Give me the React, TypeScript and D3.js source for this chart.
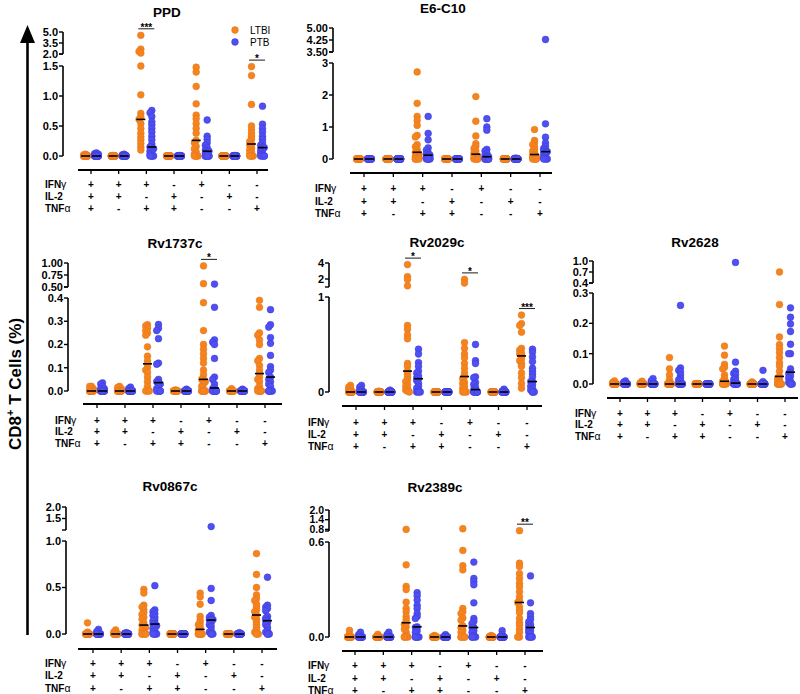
import * as d3 from 'd3';

// cytokine combination rows under each panel
const ifng = ['+', '+', '+', '-', '+', '-', '-'];
const il2 = ['+', '+', '-', '+', '-', '+', '-'];
const tnfa = ['+', '-', '+', '+', '-', '-', '+'];

const Z = (n: number) => Array(n).fill(0);

// PPD
const ppdLTBI = [
  [0.03, 0.02, 0.01, ...Z(13)],
  [0.01, ...Z(14)],
  [4.55, 2.66, 2.35, 2.13, 1.5, 1.02, 0.71, 0.65, 0.61, 0.54, 0.46, 0.38, 0.32, 0.27, 0.21, 0.15, 0.1],
  Z(15),
  [1.48, 1.4, 1.16, 0.87, 0.68, 0.62, 0.54, 0.46, 0.38, 0.26, 0.22, 0.16, 0.12, 0.07, 0.03, 0, 0, 0, 0],
  Z(15),
  [1.49, 1.34, 0.86, 0.5, 0.44, 0.38, 0.33, 0.28, 0.24, 0.2, 0.18, 0.13, 0.1, 0.07, 0.04, 0, 0, 0, 0],
];
const ppdPTB = [
  [0.05, 0.04, 0.03, 0.02, 0.01, ...Z(12)],
  [0.03, 0.02, 0.01, ...Z(13)],
  [0.76, 0.72, 0.66, 0.57, 0.52, 0.46, 0.4, 0.33, 0.27, 0.2, 0.15, 0.15, 0.12, 0.1, 0.08, 0.05, 0.03, 0, 0, 0, 0],
  [0.01, ...Z(15)],
  [0.6, 0.33, 0.28, 0.22, 0.18, 0.14, 0.1, 0.08, 0.08, 0.05, 0.03, 0, 0, 0, 0, 0, 0],
  [0.01, ...Z(15)],
  [0.83, 0.53, 0.46, 0.4, 0.33, 0.28, 0.22, 0.18, 0.15, 0.14, 0.12, 0.1, 0.07, 0.04, 0.02, 0, 0, 0, 0],
];
const ppdSig = [{ cat: 2, label: '***' }, { cat: 6, label: '*' }];

// E6-C10
const e6LTBI = [
  Z(15),
  Z(15),
  [2.72, 1.74, 1.33, 1.2, 1.05, 0.74, 0.69, 0.45, 0.38, 0.3, 0.21, 0.2, 0.15, 0.12, 0.08, 0.05, 0.02, 0, 0, 0, 0],
  Z(15),
  [1.95, 1.18, 0.72, 0.48, 0.4, 0.33, 0.25, 0.2, 0.15, 0.12, 0.08, 0.05, 0.03, 0, 0, 0, 0],
  Z(15),
  [0.92, 0.58, 0.5, 0.45, 0.38, 0.3, 0.25, 0.2, 0.14, 0.12, 0.08, 0.05, 0.02, 0, 0, 0, 0],
];
const e6PTB = [
  Z(15),
  Z(15),
  [1.33, 0.8, 0.6, 0.35, 0.28, 0.2, 0.15, 0.12, 0.12, 0.08, 0.05, 0.02, 0, 0, 0, 0, 0],
  Z(15),
  [1.26, 1.0, 0.9, 0.3, 0.25, 0.18, 0.12, 0.08, 0.07, 0.05, 0.03, 0, 0, 0, 0, 0, 0],
  [0.03, 0.02, ...Z(13)],
  [4.28, 1.1, 0.68, 0.5, 0.4, 0.33, 0.28, 0.25, 0.23, 0.2, 0.15, 0.1, 0.05, 0.02, 0, 0, 0],
];

// Rv1737c
const rv1737LTBI = [
  [0.02, 0.02, 0.01, 0.01, ...Z(12)],
  [0.02, 0.015, 0.01, ...Z(13)],
  [0.285, 0.28, 0.27, 0.26, 0.25, 0.24, 0.19, 0.15, 0.13, 0.117, 0.1, 0.09, 0.08, 0.06, 0.04, 0.02, 0, 0, 0],
  [0.005, ...Z(14)],
  [0.94, 0.57, 0.38, 0.26, 0.2, 0.18, 0.16, 0.14, 0.12, 0.09, 0.07, 0.05, 0.05, 0.04, 0.03, 0.02, 0, 0, 0, 0, 0, 0, 0],
  [0.01, ...Z(14)],
  [0.39, 0.36, 0.25, 0.24, 0.22, 0.2, 0.14, 0.13, 0.11, 0.09, 0.075, 0.06, 0.05, 0.04, 0.02, 0.01, 0, 0, 0, 0, 0],
];
const rv1737PTB = [
  [0.035, 0.03, 0.02, 0.01, 0.01, ...Z(11)],
  [0.017, 0.01, ...Z(14)],
  [0.286, 0.27, 0.26, 0.225, 0.12, 0.115, 0.05, 0.04, 0.036, 0.03, 0.02, 0.01, 0, 0, 0, 0, 0],
  [0.008, ...Z(14)],
  [0.56, 0.36, 0.22, 0.21, 0.2, 0.14, 0.06, 0.05, 0.03, 0.013, 0.01, 0, 0, 0, 0, 0, 0, 0, 0],
  [0.008, ...Z(14)],
  [0.35, 0.285, 0.275, 0.23, 0.205, 0.153, 0.105, 0.09, 0.08, 0.06, 0.05, 0.04, 0.03, 0.02, 0, 0, 0, 0, 0],
];
const rv1737Sig = [{ cat: 4, label: '*' }];

// Rv2029c
const rv2029LTBI = [
  [0.07, 0.05, 0.04, 0.02, ...Z(12)],
  [0.01, ...Z(14)],
  [3.8, 2.3, 1.95, 1.15, 0.7, 0.66, 0.6, 0.56, 0.3, 0.27, 0.22, 0.19, 0.16, 0.13, 0.11, 0.08, 0.06, 0.04, 0.02, 0.01, 0],
  Z(15),
  [1.95, 1.5, 0.52, 0.46, 0.4, 0.36, 0.3, 0.25, 0.2, 0.163, 0.14, 0.1, 0.09, 0.06, 0.04, 0.02, 0, 0, 0],
  Z(15),
  [0.81, 0.72, 0.7, 0.63, 0.46, 0.44, 0.41, 0.4, 0.38, 0.35, 0.33, 0.3, 0.27, 0.2, 0.15, 0.09, 0.04],
];
const rv2029PTB = [
  [0.07, 0.05, 0.025, 0.01, ...Z(12)],
  [0.02, ...Z(14)],
  [0.45, 0.4, 0.31, 0.27, 0.22, 0.2, 0.17, 0.15, 0.14, 0.12, 0.09, 0.06, 0.04, 0.02, 0, 0, 0],
  Z(15),
  [0.5, 0.33, 0.3, 0.16, 0.15, 0.1, 0.08, 0.05, 0.025, 0.02, 0, 0, 0, 0, 0, 0, 0],
  [0.03, 0.01, ...Z(13)],
  [0.45, 0.42, 0.37, 0.32, 0.25, 0.22, 0.19, 0.16, 0.11, 0.11, 0.08, 0.06, 0.04, 0.02, 0, 0, 0],
];
const rv2029Sig = [{ cat: 2, label: '*' }, { cat: 4, label: '*' }, { cat: 6, label: '***' }];

// Rv2628
const rv2628LTBI = [
  [0.01, 0.005, ...Z(13)],
  [0.009, 0.004, ...Z(13)],
  [0.087, 0.05, 0.03, 0.014, 0.005, ...Z(10)],
  [0.002, ...Z(14)],
  [0.125, 0.095, 0.065, 0.055, 0.05, 0.03, 0.02, 0.009, 0.009, 0.005, 0, 0, 0, 0, 0, 0, 0],
  [0.007, ...Z(14)],
  [0.7, 0.262, 0.155, 0.13, 0.117, 0.103, 0.087, 0.07, 0.059, 0.042, 0.025, 0.02, 0.015, 0.009, 0.005, 0, 0, 0, 0, 0, 0],
];
const rv2628PTB = [
  [0.01, 0.006, ...Z(13)],
  [0.018, 0.01, ...Z(13)],
  [0.259, 0.053, 0.045, 0.04, 0.03, 0.02, 0.014, 0.01, 0, 0, 0, 0, 0, 0, 0, 0, 0],
  Z(15),
  [0.96, 0.072, 0.042, 0.035, 0.031, 0.02, 0.015, 0.01, 0.003, 0, 0, 0, 0, 0, 0, 0, 0],
  [0.045, 0.008, ...Z(13)],
  [0.251, 0.22, 0.198, 0.173, 0.131, 0.1, 0.1, 0.05, 0.039, 0.035, 0.026, 0.02, 0.009, 0.005, 0, 0, 0],
];

// Rv0867c
const rv0867LTBI = [
  [0.12, 0.02, ...Z(13)],
  [0.043, 0.02, ...Z(13)],
  [0.48, 0.44, 0.31, 0.29, 0.26, 0.23, 0.21, 0.18, 0.16, 0.12, 0.096, 0.09, 0.07, 0.05, 0.04, 0.02, 0, 0, 0, 0, 0],
  Z(15),
  [0.44, 0.4, 0.32, 0.19, 0.15, 0.12, 0.1, 0.08, 0.05, 0.04, 0.02, 0, 0, 0, 0, 0, 0],
  Z(15),
  [0.865, 0.64, 0.5, 0.42, 0.38, 0.36, 0.32, 0.29, 0.26, 0.24, 0.204, 0.18, 0.157, 0.13, 0.1, 0.07, 0.04, 0.02, 0, 0, 0],
];
const rv0867PTB = [
  [0.05, 0.025, ...Z(13)],
  [0.015, 0.01, ...Z(13)],
  [0.52, 0.26, 0.24, 0.22, 0.2, 0.18, 0.15, 0.14, 0.11, 0.107, 0.09, 0.07, 0.06, 0.04, 0.02, 0, 0, 0, 0],
  Z(15),
  [1.15, 0.49, 0.36, 0.2, 0.18, 0.16, 0.155, 0.15, 0.15, 0.12, 0.1, 0.08, 0.04, 0.02, 0, 0, 0],
  [0.015, ...Z(14)],
  [0.61, 0.31, 0.29, 0.275, 0.25, 0.19, 0.17, 0.15, 0.143, 0.12, 0.1, 0.07, 0.04, 0.02, 0, 0, 0],
];

// Rv2389c
const rv2389LTBI = [
  [0.042, 0.017, ...Z(13)],
  [0.017, ...Z(14)],
  [0.8, 0.456, 0.32, 0.3, 0.22, 0.18, 0.16, 0.13, 0.11, 0.09, 0.08, 0.064, 0.05, 0.03, 0.01, 0, 0, 0, 0],
  [0.01, ...Z(14)],
  [0.84, 0.547, 0.45, 0.424, 0.18, 0.16, 0.148, 0.12, 0.106, 0.07, 0.06, 0.042, 0.03, 0.01, 0, 0, 0, 0, 0],
  [0.01, ...Z(14)],
  [0.72, 0.466, 0.445, 0.4, 0.37, 0.34, 0.318, 0.286, 0.254, 0.23, 0.218, 0.19, 0.17, 0.153, 0.117, 0.09, 0.074, 0.05, 0.03, 0, 0],
];
const rv2389PTB = [
  [0.03, 0.015, ...Z(13)],
  [0.03, 0.015, ...Z(13)],
  [0.28, 0.26, 0.233, 0.2, 0.18, 0.148, 0.13, 0.117, 0.064, 0.06, 0.04, 0.03, 0, 0, 0, 0, 0],
  [0.015, ...Z(14)],
  [0.473, 0.37, 0.35, 0.33, 0.216, 0.117, 0.1, 0.085, 0.06, 0.06, 0.04, 0.03, 0.01, 0, 0, 0, 0],
  [0.04, 0.015, ...Z(13)],
  [0.386, 0.216, 0.148, 0.127, 0.11, 0.095, 0.08, 0.07, 0.06, 0.05, 0.04, 0.03, 0.02, 0, 0, 0, 0],
];
const rv2389Sig = [{ cat: 6, label: '**' }];

const ORANGE = '#F5841F';
const BLUE = '#4F4FF2';
const FONT = 'Liberation Sans, Arial, Helvetica, sans-serif';

type Seg = { domain: [number, number]; range: [number, number]; ticks: number[]; fmt: string };
type Layout = {
  axisX: number;
  low: Seg;
  up: Seg;
  xAxisY: number;
  xLine: [number, number];
  cats: [number, number];
  rows: [number, number, number];
  labelX: number;
  title: [number, number];
};

const panels: { name: string; ltbi: number[][]; ptb: number[][]; sig: { cat: number; label: string }[]; legend?: boolean; lay: Layout }[] = [
  {
    name: 'PPD', ltbi: ppdLTBI, ptb: ppdPTB, sig: ppdSig, legend: true,
    lay: {
      axisX: 63,
      low: { domain: [0, 1.5], range: [156, 66], ticks: [0, 0.5, 1, 1.5], fmt: '.1f' },
      up: { domain: [2, 5], range: [54, 32], ticks: [2, 3.5, 5], fmt: '.1f' },
      xAxisY: 170, xLine: [78, 268], cats: [91, 257], rows: [184, 196, 208], labelX: 45, title: [167, 12],
    },
  },
  {
    name: 'E6-C10', ltbi: e6LTBI, ptb: e6PTB, sig: [],
    lay: {
      axisX: 333,
      low: { domain: [0, 3], range: [159, 63], ticks: [0, 1, 2, 3], fmt: 'd' },
      up: { domain: [3.5, 5], range: [52, 28], ticks: [3.5, 4.25, 5], fmt: '.2f' },
      xAxisY: 173, xLine: [350, 552], cats: [364, 540], rows: [188, 201, 213], labelX: 315, title: [443, 8],
    },
  },
  {
    name: 'Rv1737c', ltbi: rv1737LTBI, ptb: rv1737PTB, sig: rv1737Sig,
    lay: {
      axisX: 68,
      low: { domain: [0, 0.4], range: [391, 298], ticks: [0, 0.1, 0.2, 0.3, 0.4], fmt: '.1f' },
      up: { domain: [0.5, 1], range: [287, 263], ticks: [0.5, 0.75, 1], fmt: '.2f' },
      xAxisY: 404, xLine: [83, 282], cats: [97, 265], rows: [420, 431.5, 443], labelX: 55, title: [175, 243],
    },
  },
  {
    name: 'Rv2029c', ltbi: rv2029LTBI, ptb: rv2029PTB, sig: rv2029Sig,
    lay: {
      axisX: 329,
      low: { domain: [0, 1], range: [392, 297], ticks: [0, 1], fmt: 'd' },
      up: { domain: [1, 4], range: [287, 263], ticks: [2, 4], fmt: 'd' },
      xAxisY: 406, xLine: [342, 542], cats: [356, 527], rows: [422, 434, 446], labelX: 308, title: [437, 242],
    },
  },
  {
    name: 'Rv2628', ltbi: rv2628LTBI, ptb: rv2628PTB, sig: [],
    lay: {
      axisX: 593,
      low: { domain: [0, 0.3], range: [384, 293], ticks: [0, 0.1, 0.2, 0.3], fmt: '.1f' },
      up: { domain: [0.4, 1], range: [283, 261], ticks: [0.4, 0.7, 1], fmt: '.1f' },
      xAxisY: 398, xLine: [607, 798], cats: [620, 785], rows: [413, 424, 436], labelX: 575, title: [695, 242],
    },
  },
  {
    name: 'Rv0867c', ltbi: rv0867LTBI, ptb: rv0867PTB, sig: [],
    lay: {
      axisX: 66,
      low: { domain: [0, 1], range: [634, 541], ticks: [0, 0.5, 1], fmt: '.1f' },
      up: { domain: [1, 2], range: [530, 507], ticks: [1.5, 2], fmt: '.1f' },
      xAxisY: 649, xLine: [78, 277], cats: [93, 262], rows: [663, 675, 688], labelX: 45, title: [170, 486],
    },
  },
  {
    name: 'Rv2389c', ltbi: rv2389LTBI, ptb: rv2389PTB, sig: rv2389Sig,
    lay: {
      axisX: 329,
      low: { domain: [0, 0.6], range: [637, 542], ticks: [0, 0.6], fmt: '.1f' },
      up: { domain: [0.7, 2], range: [531, 510], ticks: [0.8, 1.4, 2], fmt: '.1f' },
      xAxisY: 651, xLine: [342, 543], cats: [355, 525], rows: [665, 678, 690], labelX: 308, title: [435, 487],
    },
  },
];

// tiny beeswarm: dots that sit on top of each other get nudged sideways a bit
function swarm(vals: number[], y: (v: number) => number) {
  const pts = vals.map(v => ({ v, y: y(v), dx: 0 })).sort((a, b) => a.y - b.y);
  const steps = [0, -1.8, 1.8];
  pts.forEach((p, i) => {
    const near = pts.slice(0, i).filter(q => Math.abs(q.y - p.y) < 2.5);
    const free = steps.find(s => !near.some(q => q.dx === s));
    p.dx = free ?? steps[near.length % 3];
  });
  return pts;
}

function Panel({ p }: { p: (typeof panels)[number] }) {
  const { lay } = p;
  const low = d3.scaleLinear().domain(lay.low.domain).range(lay.low.range);
  const up = d3.scaleLinear().domain(lay.up.domain).range(lay.up.range);
  const y = (v: number) => (v <= lay.low.domain[1] ? low(v) : up(Math.max(v, lay.up.domain[0])));
  const x = d3.scalePoint<number>().domain(d3.range(7)).range(lay.cats);
  const ax = lay.axisX;
  const groups = [
    { data: p.ltbi, color: ORANGE, stroke: '#E5761A', off: -5.5 },
    { data: p.ptb, color: BLUE, stroke: '#3A3AD8', off: 5.5 },
  ];
  const segTicks = (s: Seg, sc: d3.ScaleLinear<number, number>) => {
    const f = d3.format(s.fmt);
    const tight = s.ticks.length > 1 && Math.abs(sc(s.ticks[1]) - sc(s.ticks[0])) < 11;
    return s.ticks.map(t => (
      <g key={t}>
        <line x1={ax - 4} x2={ax} y1={sc(t)} y2={sc(t)} stroke="#000" strokeWidth={1.4} />
        <text x={ax - 5} y={sc(t)} dy="0.35em" textAnchor="end" fontSize={tight ? 10.5 : 11} fontWeight="bold">{f(t)}</text>
      </g>
    ));
  };
  const rowSets = [
    { label: 'IFN', greek: 'γ', signs: ifng },
    { label: 'IL-2', greek: '', signs: il2 },
    { label: 'TNF', greek: 'α', signs: tnfa },
  ];
  return (
    <g fontFamily={FONT}>
      <text x={lay.title[0]} y={lay.title[1]} dy="0.35em" textAnchor="middle" fontSize={13.5} fontWeight="bold">{p.name}</text>
      {/* broken y axis */}
      <line x1={ax} x2={ax} y1={lay.low.range[0]} y2={lay.low.range[1]} stroke="#000" strokeWidth={1.6} />
      <line x1={ax} x2={ax} y1={lay.up.range[0]} y2={lay.up.range[1]} stroke="#000" strokeWidth={1.6} />
      <line x1={ax - 4} x2={ax} y1={lay.up.range[0]} y2={lay.up.range[0]} stroke="#000" strokeWidth={1.4} />
      {segTicks(lay.low, low)}
      {segTicks(lay.up, up)}
      {/* x axis */}
      <line x1={lay.xLine[0]} x2={lay.xLine[1]} y1={lay.xAxisY} y2={lay.xAxisY} stroke="#000" strokeWidth={1.8} />
      {d3.range(7).map(i => (
        <line key={i} x1={x(i)} x2={x(i)} y1={lay.xAxisY} y2={lay.xAxisY + 4} stroke="#000" strokeWidth={1.3} />
      ))}
      {/* dots */}
      {d3.range(7).map(i =>
        groups.map((g, gi) =>
          swarm(g.data[i], y).map((pt, k) => (
            <circle key={`${i}-${gi}-${k}`} cx={(x(i) ?? 0) + g.off + pt.dx} cy={pt.y} r={3.4}
              fill={g.color} stroke={g.stroke} strokeWidth={0.5} />
          ))
        )
      )}
      {/* medians */}
      {d3.range(7).map(i =>
        groups.map((g, gi) => {
          const m = d3.median(g.data[i]) ?? 0;
          const cx = (x(i) ?? 0) + g.off;
          return <line key={`m${i}-${gi}`} x1={cx - 4.5} x2={cx + 4.5} y1={y(m)} y2={y(m)} stroke="#000" strokeWidth={1.6} />;
        })
      )}
      {/* significance */}
      {p.sig.map(s => {
        const top = d3.min([...p.ltbi[s.cat], ...p.ptb[s.cat]].map(y)) ?? 0;
        const ly = top - 6.5;
        const cx = x(s.cat) ?? 0;
        return (
          <g key={s.cat}>
            <line x1={cx - 8} x2={cx + 8} y1={ly} y2={ly} stroke="#000" strokeWidth={0.9} />
            <text x={cx} y={ly + 2} textAnchor="middle" fontSize={10} fontWeight="bold">{s.label}</text>
          </g>
        );
      })}
      {/* cytokine table */}
      {rowSets.map((r, ri) => (
        <g key={r.label}>
          <text x={lay.labelX} y={lay.rows[ri]} dy="0.35em" fontSize={10} fontWeight="bold">
            {r.label}
            {r.greek && <tspan fontWeight="normal" fontSize={10.5}>{r.greek}</tspan>}
          </text>
          {r.signs.map((s, i) => (
            <text key={i} x={x(i)} y={lay.rows[ri]} dy="0.35em" textAnchor="middle" fontSize={10} fontWeight="bold">{s}</text>
          ))}
        </g>
      ))}
      {p.legend && (
        <g fontSize={10}>
          <circle cx={235} cy={30} r={3.4} fill={ORANGE} stroke="#E5761A" strokeWidth={0.5} />
          <text x={250} y={30} dy="0.35em">LTBI</text>
          <circle cx={235} cy={42} r={3.4} fill={BLUE} stroke="#3A3AD8" strokeWidth={0.5} />
          <text x={250} y={42} dy="0.35em">PTB</text>
        </g>
      )}
    </g>
  );
}

export default function App() {
  return (
    <svg width={800} height={694} style={{ position: 'absolute', left: 0, top: 0, background: '#fff' }}>
      <rect width={800} height={694} fill="#fff" />
      {/* big shared y axis arrow */}
      <line x1={27.5} x2={27.5} y1={40} y2={635} stroke="#000" strokeWidth={2.6} />
      <path d="M27.5,25 L35,43 L20,43 Z" fill="#000" />
      <text transform="translate(21,384) rotate(-90)" textAnchor="middle" fontFamily={FONT} fontSize={17} fontWeight="bold">
        CD8<tspan fontSize={11} dy={-7}>+</tspan><tspan dy={7}> T Cells (%)</tspan>
      </text>
      {panels.map(p => <Panel key={p.name} p={p} />)}
    </svg>
  );
}
